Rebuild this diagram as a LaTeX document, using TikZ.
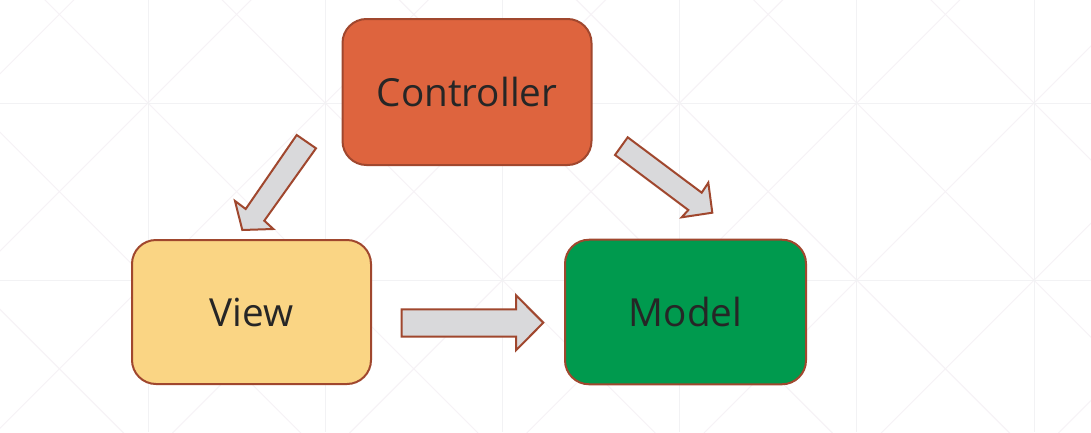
\documentclass[tikz,border=0pt]{standalone}
\usepackage{fontspec}
\setmainfont{Open Sans}
\definecolor{edgebrown}{HTML}{A0472E}
\definecolor{ctrlfill}{HTML}{DE643E}
\definecolor{viewfill}{HTML}{FAD584}
\definecolor{modelfill}{HTML}{009A4E}
\definecolor{arrowfill}{HTML}{D9D9DB}
\definecolor{labeltext}{HTML}{262626}
\definecolor{gridgrey}{HTML}{F2F2F4}
\definecolor{diagpink}{HTML}{F6F2F6}
\begin{document}
\begin{tikzpicture}[x=0.75pt,y=-0.75pt,
  mvcbox/.style={draw=edgebrown, line width=1.5pt, rounded corners=18pt,
    text=labeltext, font=\fontsize{29}{35}\selectfont, inner sep=0pt},
  blockarrow/.style={draw=edgebrown, fill=arrowfill, line width=1.5pt, line join=miter},
  gridline/.style={draw=gridgrey, line width=0.7pt},
  diagline/.style={draw=diagpink, line width=0.7pt}]
\useasboundingbox (0,0) rectangle (1091,432);
\fill[white] (0,0) rectangle (1091,432);

% faint background grid with cell diagonals
\begin{scope}
  \clip (0,0) rectangle (1091,432);
  \foreach \k in {-8,...,8} {
    \draw[diagline] ({148+177.2*\k-700},{103-700}) -- ++(1400,1400);
    \draw[diagline] ({148+177.2*\k-700},{103+700}) -- ++(1400,-1400);
  }
  \foreach \gx in {-29.2,148,325.2,502.4,679.6,856.8,1034} {
    \draw[gridline] (\gx,0) -- (\gx,432);
  }
  \foreach \gy in {-74.2,103,280.2,457.4} {
    \draw[gridline] (0,\gy) -- (1091,\gy);
  }
\end{scope}

% the three components
\node[mvcbox, fill=ctrlfill, minimum width=186.75pt, minimum height=109.5pt]
  (controller) at (467,92) {Controller};
\node[mvcbox, fill=viewfill, minimum width=179.25pt, minimum height=108pt]
  (view) at (251.5,312) {View};
\node[mvcbox, fill=modelfill, minimum width=180.75pt, minimum height=108.4pt]
  (model) at (685.5,312) {Model};

% block arrows: Controller -> View
\draw[blockarrow] (296.7,135) -- (316,148.3) -- (264.3,220.7) -- (273.3,229)
  -- (242.3,230) -- (235,201) -- (245.7,209) -- cycle;
% Controller -> Model
\draw[blockarrow] (627.7,137.3) -- (701.7,192.7) -- (708.3,182.7) -- (712.3,212.7)
  -- (681.7,217.3) -- (688.3,210) -- (615,155) -- cycle;
% View -> Model
\draw[blockarrow] (401.7,309.3) -- (516,309.3) -- (516,295.3) -- (543.3,322.7)
  -- (516,350.3) -- (516,336.7) -- (401.7,336.7) -- cycle;
\end{tikzpicture}
\end{document}
